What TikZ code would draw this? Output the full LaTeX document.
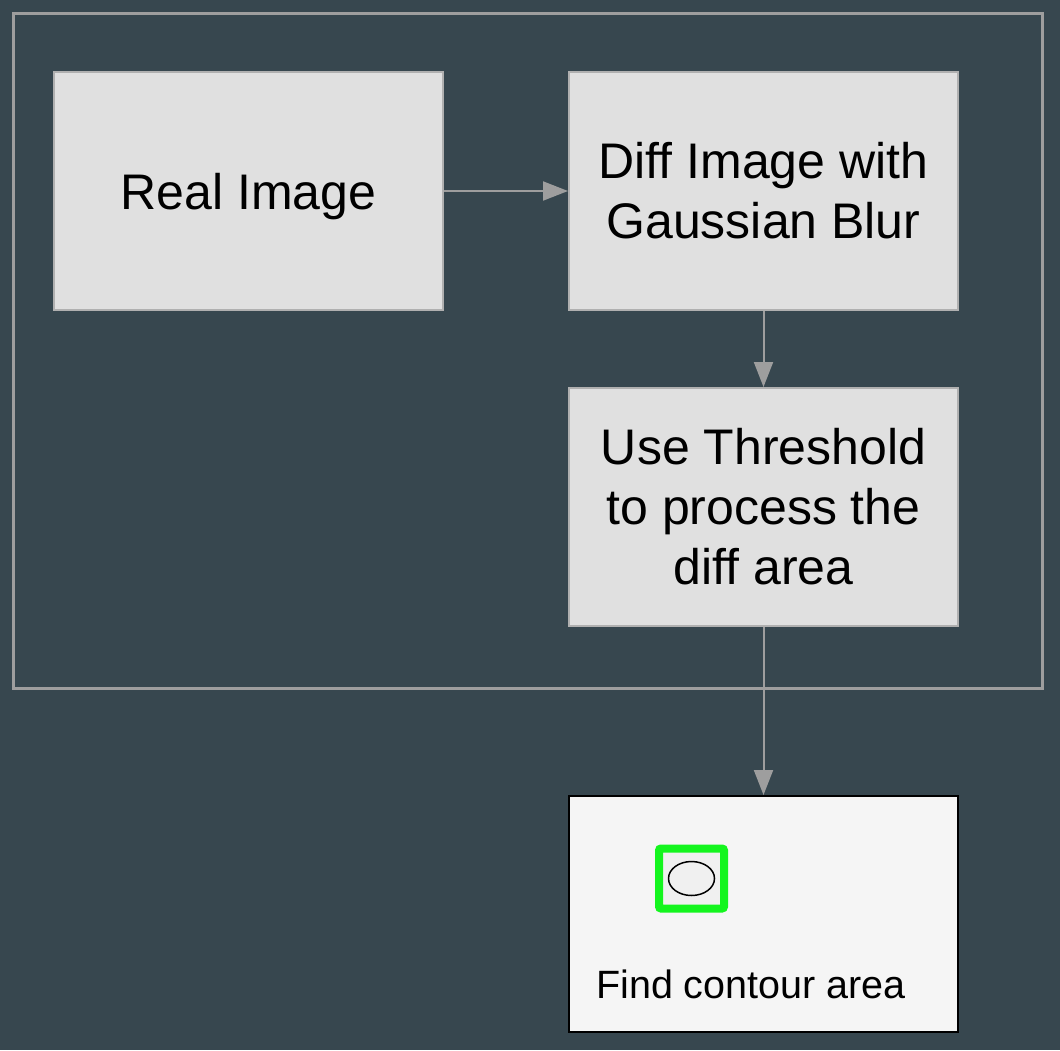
\documentclass[tikz,border=0pt]{standalone}
\usepackage{fontspec}
\setmainfont{Liberation Sans}
\usetikzlibrary{arrows.meta,positioning,shapes.geometric}
\definecolor{slatebg}{HTML}{37474F}
\definecolor{stepfill}{HTML}{E0E0E0}
\definecolor{stepline}{HTML}{B0B0B0}
\definecolor{wireclr}{HTML}{9E9E9E}
\definecolor{paperclr}{HTML}{F5F5F5}
\definecolor{markgreen}{HTML}{14F51E}
\begin{document}
\begin{tikzpicture}[
  >={Triangle[length=25pt, width=19pt]},
  stepbox/.style={rectangle, draw=stepline, fill=stepfill, line width=2pt,
                  minimum width=389pt, minimum height=238pt, inner sep=0pt,
                  align=center, font=\fontsize{50}{60}\selectfont},
  resultbox/.style={rectangle, draw=black, fill=paperclr, line width=2pt,
                    minimum width=389pt, minimum height=236pt, inner sep=0pt},
  frame/.style={draw=wireclr, line width=3pt},
  flow/.style={->, draw=wireclr, line width=2pt},
  caption/.style={font=\fontsize{39.5}{46}\selectfont, inner sep=0pt},
  marker/.style={rectangle, draw=markgreen, fill=paperclr!98!black, line width=8pt,
                 rounded corners=2pt, minimum width=65pt, minimum height=60pt, inner sep=0pt},
  blob/.style={ellipse, draw=black, line width=1.5pt, minimum width=46pt,
               minimum height=34pt, inner sep=0pt},
]

\fill[slatebg] (0pt,0pt) rectangle (1060pt,-1050pt);
\draw[frame] (13.5pt,-13.5pt) rectangle (1042pt,-688pt);

\node[stepbox, text depth=0pt] (real) at (248.5pt,-191pt) {Real Image};
\node[stepbox, right=124pt of real]   (diff)   {Diff Image with\\Gaussian Blur};
\node[stepbox, below=76pt of diff]    (thresh) {Use Threshold\\to process the\\diff area};
\node[resultbox, below=168pt of thresh] (found) {};

\node[marker] (icon) at ([xshift=123.5pt,yshift=-83.5pt]found.north west) {};
\node[blob] (contour) at (icon.center) {};
\node[caption, anchor=base west] (findtxt) at ([xshift=28pt,yshift=35pt]found.south west) {Find contour area};

\draw[flow] (real)   -- (diff);
\draw[flow] (diff)   -- (thresh);
\draw[flow] (thresh) -- (found);

\end{tikzpicture}
\end{document}
